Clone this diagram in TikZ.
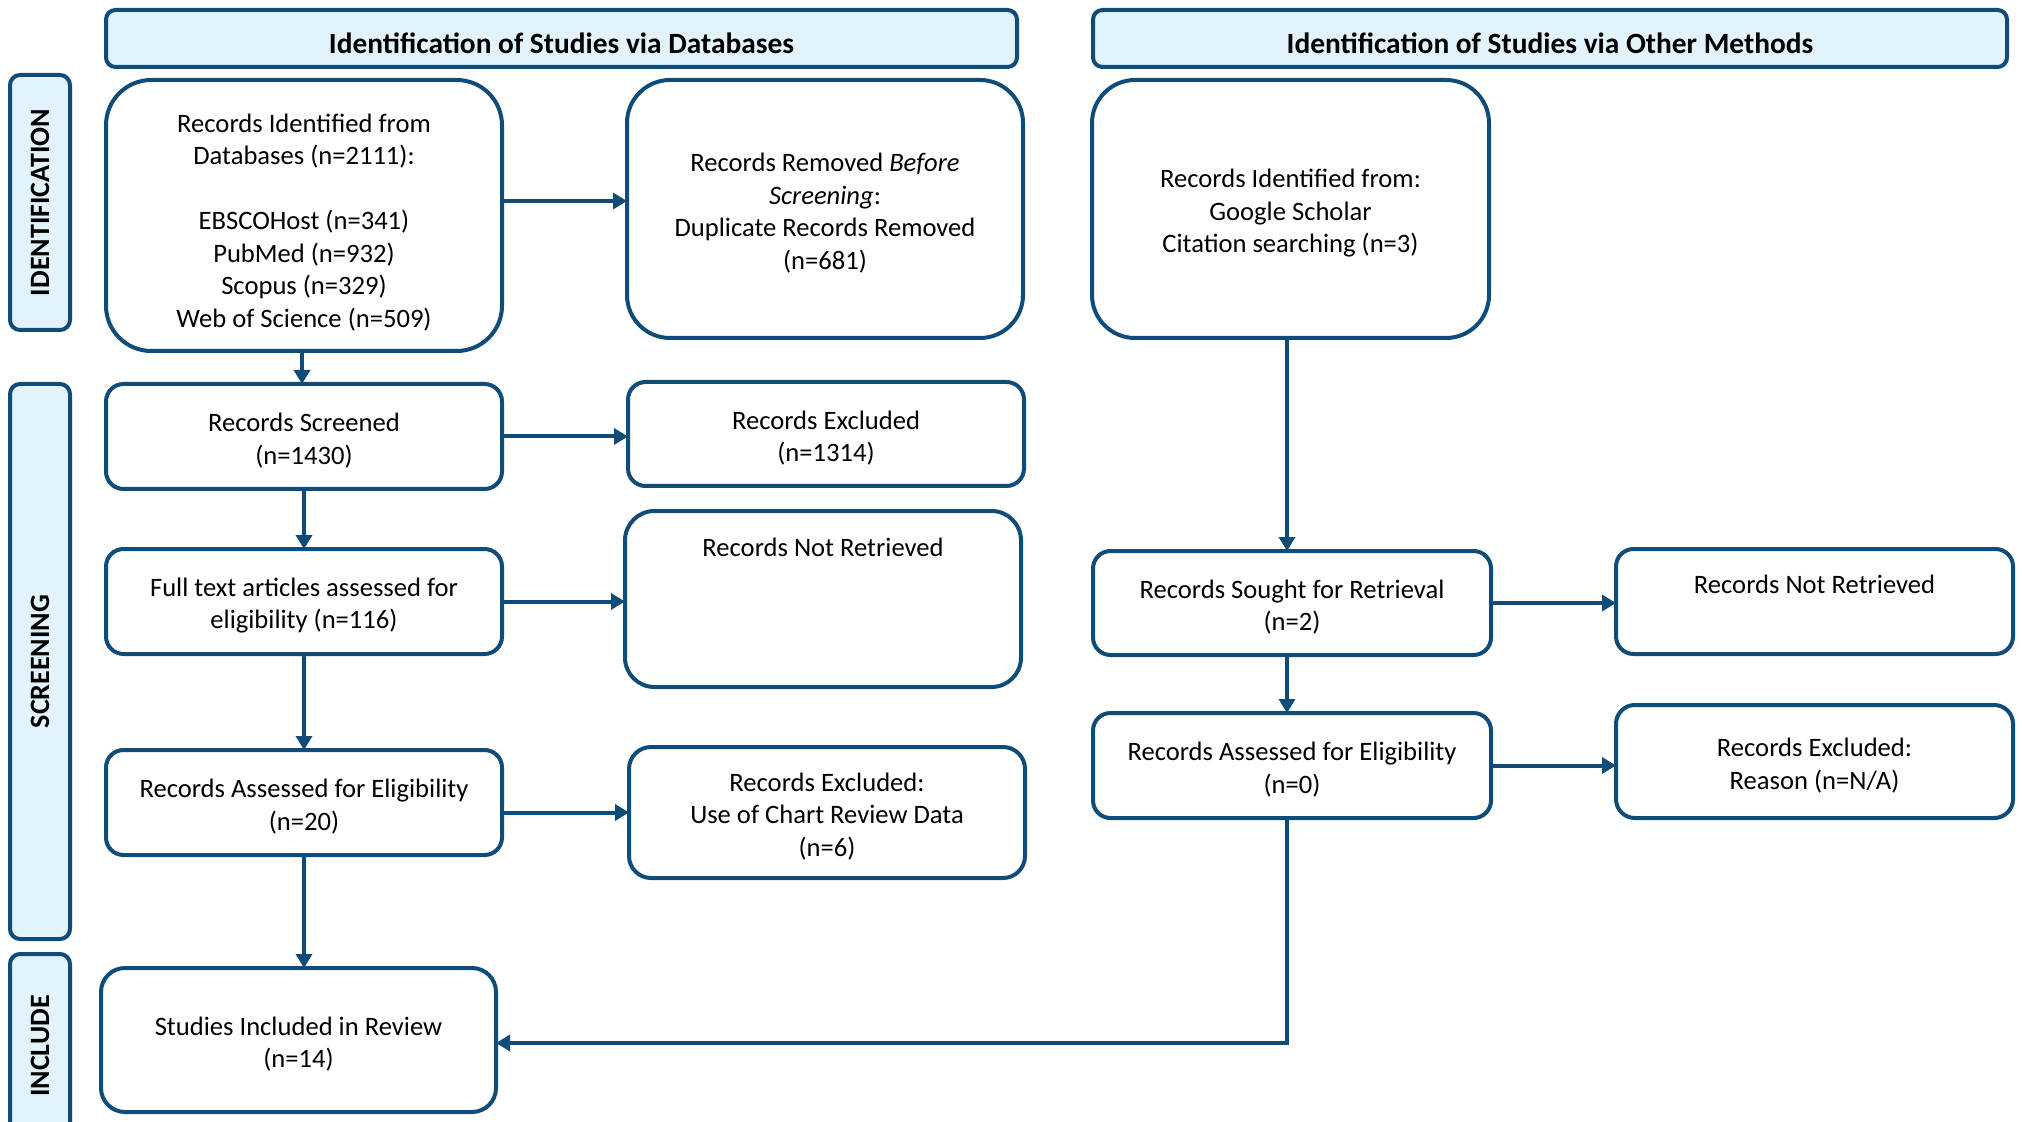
\documentclass[tikz,border=0pt]{standalone}
\usepackage{fontspec}
\setmainfont{Carlito}
\usetikzlibrary{arrows.meta}
\definecolor{dblue}{HTML}{0F4C7A}
\definecolor{lblue}{HTML}{E2F3FD}
\newcommand\ts[1]{\rule{0pt}{#1}}
\begin{document}
\begin{tikzpicture}[x=0.5pt,y=-0.5pt,
  box/.style={draw=dblue, line width=2pt, fill=white, align=center,
    inner sep=0pt, outer sep=0pt, font=\fontsize{13.3}{16.25}\selectfont},
  head/.style={box, fill=lblue, font=\fontsize{14.7}{17}\selectfont\bfseries,
    rounded corners=4.75pt, minimum height=28.5pt},
  side/.style={box, fill=lblue, rotate=90, rounded corners=5pt, minimum height=30pt,
    font=\fontsize{14}{16}\selectfont\bfseries},
  txt/.style={inner sep=0pt, align=center, font=\fontsize{13.3}{16.25}\selectfont},
  arr/.style={draw=dblue, line width=2pt, -{Triangle[length=7pt,width=8pt]}}]
\useasboundingbox (0,0) rectangle (2022,1122);

% headers
\node[head, minimum width=455.5pt] (H1) at (561.5,38.5) {\ts{15.3pt}Identification of Studies via Databases};
\node[head, minimum width=457pt] (H2) at (1550,38.5) {\ts{15.3pt}Identification of Studies via Other Methods};

% side labels
\node[side, minimum width=127.5pt] (S1) at (40,202.5) {IDENTIFICATION};
\node[side, minimum width=277.5pt] (S2) at (40,661.5) {SCREENING};
\node[side, minimum width=92pt] (S3) at (40,1046) {INCLUDE};

% boxes
\node[box, minimum width=198pt, minimum height=135.5pt, rounded corners=22.6pt] (A) at (304,215.5)
  {\ts{16pt}Records Identified from\\Databases (n=2111):\\[16.25pt]EBSCOHost (n=341)\\PubMed (n=932)\\Scopus (n=329)\\Web of Science (n=509)};
\node[box, minimum width=198pt, minimum height=129pt, rounded corners=21.5pt] (B) at (825,209)
  {\ts{13.3pt}Records Removed \textit{Before}\\\textit{Screening}:\\Duplicate Records Removed\\(n=681)};
\node[box, minimum width=198.5pt, minimum height=129pt, rounded corners=21.5pt] (C) at (1290.5,209)
  {\ts{13.3pt}Records Identified from:\\Google Scholar\\Citation searching (n=3)};
\node[box, minimum width=198pt, minimum height=52.5pt, rounded corners=8.75pt] (D) at (304,436.5)
  {\ts{13.3pt}Records Screened\\(n=1430)};
\node[box, minimum width=198pt, minimum height=52pt, rounded corners=8.75pt] (E) at (826,434)
  {\ts{13.3pt}Records Excluded\\(n=1314)};
\node[box, minimum width=198pt, minimum height=52.5pt, rounded corners=8.75pt] (F) at (304,601.5)
  {\ts{13.3pt}Full text articles assessed for\\eligibility (n=116)};
\node[box, minimum width=198pt, minimum height=88pt, rounded corners=14.7pt] (G) at (823,599) {};
\node[txt] (Gt) at ([yshift=-18pt]G.north) {Records Not Retrieved};
\node[box, minimum width=199pt, minimum height=52pt, rounded corners=8.75pt] (H) at (1292,603)
  {\ts{13.3pt}Records Sought for Retrieval\\(n=2)};
\node[box, minimum width=198.5pt, minimum height=52.5pt, rounded corners=8.75pt] (I) at (1814.5,601.5) {};
\node[txt] (It) at ([yshift=-17.5pt]I.north) {Records Not Retrieved};
\node[box, minimum width=198pt, minimum height=52.5pt, rounded corners=8.75pt] (J) at (304,802.5)
  {\ts{13.3pt}Records Assessed for Eligibility\\(n=20)};
\node[box, minimum width=198pt, minimum height=65.5pt, rounded corners=11pt] (K) at (827,812.5)
  {\ts{13.3pt}Records Excluded:\\Use of Chart Review Data\\(n=6)};
\node[box, minimum width=199pt, minimum height=52.5pt, rounded corners=8.75pt] (L) at (1292,765.5)
  {\ts{13.3pt}Records Assessed for Eligibility\\(n=0)};
\node[box, minimum width=198.5pt, minimum height=56.5pt, rounded corners=9.4pt] (M) at (1814.5,761.5)
  {\ts{13.3pt}Records Excluded:\\Reason (n=N/A)};
\node[box, minimum width=197.5pt, minimum height=72pt, rounded corners=12pt] (N) at (298.5,1040)
  {\ts{13.3pt}Studies Included in Review\\(n=14)};

% connectors
\draw[arr] ([yshift=7.25pt]A.east) -- ([yshift=7.25pt]A.east -| B.west);
\draw[arr] ([xshift=-1pt]A.south) -- ([xshift=-1pt]D.north);
\draw[arr] (D.east) -- (D.east -| E.west);
\draw[arr] (D.south) -- (F.north);
\draw[arr] (F.east) -- (F.east -| G.west);
\draw[arr] (F.south) -- (J.north);
\draw[arr] (K.west -| J.east) -- (K.west);
\draw[arr] (J.south) -- (J.south |- N.north);
\draw[arr] ([xshift=-1.75pt]C.south) -- ([xshift=-1.75pt]C.south |- H.north);
\draw[arr] (H.east) -- (H.east -| I.west);
\draw[arr] ([xshift=-2.5pt]H.south) -- ([xshift=-2.5pt]H.south |- L.north);
\draw[arr] (L.east) -- (L.east -| M.west);
\draw[arr] ([xshift=-2.5pt]L.south) |- ([yshift=-1.5pt]N.east);
\end{tikzpicture}
\end{document}
